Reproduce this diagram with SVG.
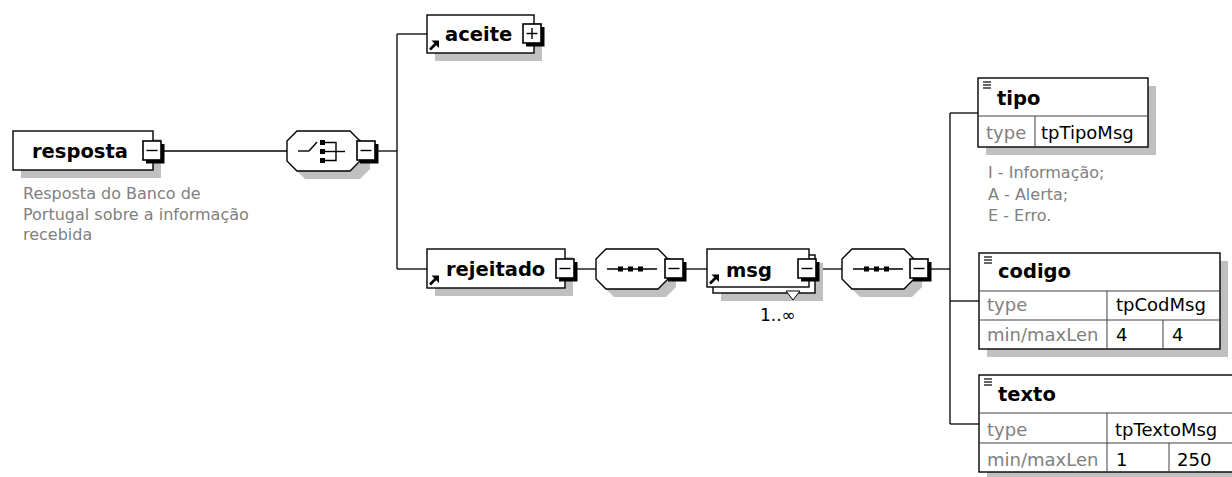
<svg xmlns="http://www.w3.org/2000/svg" width="1232" height="477" viewBox="0 0 1232 477">
  <defs>
    <style>
      .shadow { fill: #c0c0c0; }
      .box { fill: #ffffff; stroke: #000000; stroke-width: 1.4; }
      .edge { fill: none; stroke: #000000; stroke-width: 1.3; }
      .grid { fill: none; stroke: #404040; stroke-width: 1; }
      .name { font-family: "DejaVu Sans", "Liberation Sans", sans-serif; font-weight: bold; font-size: 19.5px; fill: #000000; }
      .note { font-family: "DejaVu Sans", "Liberation Sans", sans-serif; font-size: 16px; fill: #808080; }
      .lbl { font-family: "DejaVu Sans", "Liberation Sans", sans-serif; font-size: 18px; fill: #808080; }
      .val { font-family: "DejaVu Sans", "Liberation Sans", sans-serif; font-size: 18px; fill: #000000; }
      .occurs { font-family: "DejaVu Sans", "Liberation Sans", sans-serif; font-size: 17px; fill: #000000; }
      .btn { fill: #ffffff; stroke: #000000; stroke-width: 1.6; }
      .glyph { fill: none; stroke: #000000; stroke-width: 1.4; }
    </style>
    <!-- collapse button (minus) -->
    <g id="btn-minus">
      <rect x="3" y="3" width="18.5" height="19.5" fill="#000000"/>
      <rect x="0" y="0" width="18" height="19" class="btn"/>
      <line x1="3.5" y1="9.5" x2="14.5" y2="9.5" class="glyph"/>
    </g>
    <!-- expand button (plus) -->
    <g id="btn-plus">
      <rect x="3" y="3" width="18.5" height="19.5" fill="#000000"/>
      <rect x="0" y="0" width="18" height="19" class="btn"/>
      <line x1="3.5" y1="9.5" x2="14.5" y2="9.5" class="glyph"/>
      <line x1="9" y1="4" x2="9" y2="15" class="glyph"/>
    </g>
    <!-- reference arrow, origin at box bottom-left -->
    <g id="ref-arrow">
      <line x1="3" y1="-3.5" x2="8.5" y2="-9" stroke="#000000" stroke-width="2.6"/>
      <polygon points="12,-12.5 4.5,-12.5 12,-5" fill="#000000"/>
    </g>
    <!-- simple-content marker, origin at box top-left -->
    <g id="simple-mark">
      <line x1="5" y1="4" x2="13" y2="4" stroke="#000000" stroke-width="1.2"/>
      <line x1="5" y1="7" x2="13" y2="7" stroke="#000000" stroke-width="1.2"/>
      <line x1="5" y1="10" x2="13" y2="10" stroke="#000000" stroke-width="1.2"/>
    </g>
  </defs>

  <rect x="0" y="0" width="1232" height="477" fill="#ffffff"/>

  <!-- connectors -->
  <g id="connectors">
    <line x1="160" y1="151" x2="287" y2="151" class="edge"/>
    <line x1="375" y1="151" x2="397" y2="151" class="edge"/>
    <line x1="397" y1="34" x2="397" y2="269" class="edge"/>
    <line x1="397" y1="34" x2="427" y2="34" class="edge"/>
    <line x1="397" y1="269" x2="427" y2="269" class="edge"/>
    <line x1="573" y1="269" x2="596" y2="269" class="edge"/>
    <line x1="682" y1="269" x2="707" y2="269" class="edge"/>
    <line x1="815" y1="269" x2="842" y2="269" class="edge"/>
    <line x1="927" y1="269" x2="950" y2="269" class="edge"/>
    <line x1="950" y1="113" x2="950" y2="424" class="edge"/>
    <line x1="950" y1="113" x2="978" y2="113" class="edge"/>
    <line x1="950" y1="301" x2="979" y2="301" class="edge"/>
    <line x1="950" y1="424" x2="979" y2="424" class="edge"/>
  </g>

  <!-- root element -->
  <g id="node-resposta">
    <rect x="21" y="139" width="140" height="39" class="shadow"/>
    <rect x="13" y="131" width="140" height="39" class="box"/>
    <text x="32" y="158" class="name">resposta</text>
    <use href="#btn-minus" x="143" y="141"/>
    <text class="note">
      <tspan x="23" y="199">Resposta do Banco de</tspan>
      <tspan x="23" y="219.5">Portugal sobre a informação</tspan>
      <tspan x="23" y="240">recebida</tspan>
    </text>
  </g>

  <!-- choice compositor -->
  <g id="node-choice">
    <path d="M305,139 H360 L370,149 V169 L360,179 H305 L295,169 V149 Z" class="shadow"/>
    <path d="M297,131 H350 L360,141 V161 L350,171 H297 L287,161 V141 Z" class="box"/>
    <line x1="298" y1="151" x2="309" y2="151" class="glyph"/>
    <line x1="309" y1="151" x2="317" y2="142" class="glyph"/>
    <rect x="320" y="140" width="5" height="5" fill="#000000"/>
    <rect x="320" y="149" width="5" height="5" fill="#000000"/>
    <rect x="320" y="158" width="5" height="5" fill="#000000"/>
    <polyline points="325,142.5 336,142.5 336,160.5 325,160.5" class="glyph"/>
    <line x1="325" y1="151.5" x2="345" y2="151.5" class="glyph"/>
    <use href="#btn-minus" x="357" y="141"/>
  </g>

  <!-- aceite -->
  <g id="node-aceite">
    <rect x="435" y="23" width="107" height="38" class="shadow"/>
    <rect x="427" y="15" width="107" height="38" class="box"/>
    <use href="#ref-arrow" x="427" y="53"/>
    <text x="445" y="41" class="name">aceite</text>
    <use href="#btn-plus" x="523" y="24"/>
  </g>

  <!-- rejeitado -->
  <g id="node-rejeitado">
    <rect x="435" y="257" width="138" height="39" class="shadow"/>
    <rect x="427" y="249" width="138" height="39" class="box"/>
    <use href="#ref-arrow" x="427" y="288"/>
    <text x="446" y="276" class="name">rejeitado</text>
    <use href="#btn-minus" x="556" y="259"/>
  </g>

  <!-- sequence under rejeitado -->
  <g id="node-sequence-1">
    <path d="M614,257 H666 L676,267 V287 L666,297 H614 L604,287 V267 Z" class="shadow"/>
    <path d="M606,249 H658 L668,259 V279 L658,289 H606 L596,279 V259 Z" class="box"/>
    <line x1="607" y1="269" x2="657" y2="269" class="glyph"/>
    <rect x="618" y="266.5" width="5" height="5" fill="#000000"/>
    <rect x="628" y="266.5" width="5" height="5" fill="#000000"/>
    <rect x="638" y="266.5" width="5" height="5" fill="#000000"/>
    <use href="#btn-minus" x="665" y="259"/>
  </g>

  <!-- msg (1..unbounded) -->
  <g id="node-msg">
    <rect x="721" y="263" width="102" height="38" class="shadow"/>
    <rect x="713" y="255" width="102" height="38" class="box"/>
    <rect x="707" y="249" width="102" height="38" class="box"/>
    <polygon points="786,291 800,291 793,300" fill="#ffffff" stroke="#000000" stroke-width="1"/>
    <use href="#ref-arrow" x="707" y="287"/>
    <text x="726" y="277" class="name">msg</text>
    <use href="#btn-minus" x="798" y="259"/>
    <text x="760" y="321" class="occurs">1..∞</text>
  </g>

  <!-- sequence under msg -->
  <g id="node-sequence-2">
    <path d="M860,257 H912 L922,267 V287 L912,297 H860 L850,287 V267 Z" class="shadow"/>
    <path d="M852,249 H904 L914,259 V279 L904,289 H852 L842,279 V259 Z" class="box"/>
    <line x1="853" y1="269" x2="903" y2="269" class="glyph"/>
    <rect x="864" y="266.5" width="5" height="5" fill="#000000"/>
    <rect x="874" y="266.5" width="5" height="5" fill="#000000"/>
    <rect x="884" y="266.5" width="5" height="5" fill="#000000"/>
    <use href="#btn-minus" x="910" y="259"/>
  </g>

  <!-- tipo -->
  <g id="node-tipo">
    <rect x="986" y="86" width="170" height="69" class="shadow"/>
    <rect x="978" y="78" width="170" height="69" class="box"/>
    <line x1="978" y1="116" x2="1148" y2="116" class="grid"/>
    <line x1="1035" y1="116" x2="1035" y2="147" class="grid"/>
    <use href="#simple-mark" x="978" y="78"/>
    <text x="997" y="105" class="name">tipo</text>
    <text x="986" y="139" class="lbl">type</text>
    <text x="1041" y="139" class="val">tpTipoMsg</text>
    <text class="note">
      <tspan x="988" y="178">I - Informação;</tspan>
      <tspan x="988" y="199.5">A - Alerta;</tspan>
      <tspan x="988" y="221">E - Erro.</tspan>
    </text>
  </g>

  <!-- codigo -->
  <g id="node-codigo">
    <rect x="987" y="261" width="241" height="96" class="shadow"/>
    <rect x="979" y="253" width="241" height="96" class="box"/>
    <line x1="979" y1="291" x2="1220" y2="291" class="grid"/>
    <line x1="979" y1="320" x2="1220" y2="320" class="grid"/>
    <line x1="1107" y1="291" x2="1107" y2="349" class="grid"/>
    <line x1="1163" y1="320" x2="1163" y2="349" class="grid"/>
    <use href="#simple-mark" x="979" y="253"/>
    <text x="998" y="278" class="name">codigo</text>
    <text x="987" y="311" class="lbl">type</text>
    <text x="1116" y="311" class="val">tpCodMsg</text>
    <text x="987" y="341" class="lbl">min/maxLen</text>
    <text x="1116" y="341" class="val">4</text>
    <text x="1172" y="341" class="val">4</text>
  </g>

  <!-- texto -->
  <g id="node-texto">
    <rect x="987" y="383" width="257" height="97" class="shadow"/>
    <rect x="979" y="375" width="257" height="97" class="box"/>
    <line x1="979" y1="413" x2="1236" y2="413" class="grid"/>
    <line x1="979" y1="443" x2="1236" y2="443" class="grid"/>
    <line x1="1107" y1="413" x2="1107" y2="472" class="grid"/>
    <line x1="1169" y1="443" x2="1169" y2="472" class="grid"/>
    <use href="#simple-mark" x="979" y="375"/>
    <text x="998" y="401" class="name">texto</text>
    <text x="987" y="436" class="lbl">type</text>
    <text x="1115" y="436" class="val">tpTextoMsg</text>
    <text x="987" y="466" class="lbl">min/maxLen</text>
    <text x="1116" y="466" class="val">1</text>
    <text x="1177" y="466" class="val">250</text>
  </g>
</svg>
